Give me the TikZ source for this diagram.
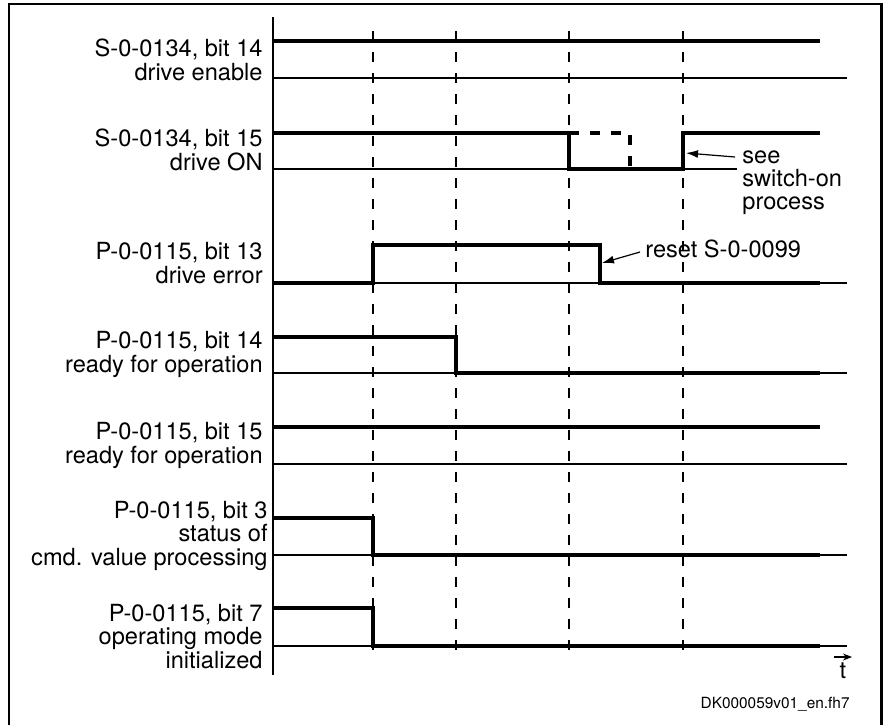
\documentclass[tikz,border=0pt]{standalone}
\usepackage{fontspec}
\setmainfont{TeX Gyre Heros}
\usetikzlibrary{arrows.meta}
\begin{document}
\begin{tikzpicture}[x=0.5pt,y=-0.5pt,
  lbl/.style={align=right,anchor=base east,inner sep=0pt,font=\fontsize{11.8}{11.75}\selectfont},
  note/.style={inner sep=0pt,font=\fontsize{11.8}{11.5}\selectfont},
  sig/.style={line width=1.7pt,line join=miter},
  sigdash/.style={sig,dash pattern=on 5pt off 5.5pt},
  baseline/.style={line width=0.6pt},
  evt/.style={line width=0.6pt,dash pattern=on 5pt off 5.5pt},
  ptr/.style={line width=0.6pt,-{Latex[length=6pt,width=4pt]}}
]
\useasboundingbox (0,0) rectangle (883,724);
% frame, open at the bottom
\begin{scope}
  \clip (0,0) rectangle (883,724);
  \draw[line width=1.1pt] (9,740) -- (9,4) -- (881.5,4) -- (881.5,740);
\end{scope}

% vertical axis
\draw[line width=0.7pt] (273,17) -- (273,675);

% zero levels of the signals
\foreach \y in {78,283,373,464,555,646}
  \draw[baseline] (273,\y) -- (847,\y);
\draw[baseline] (273,169) -- (737,169);

% event markers
\foreach \x in {373,456,569,683}
  \draw[evt] (\x,31) -- (\x,655);

% signal traces
\draw[sig] (273,41) -- (820,41);
\draw[sig] (273,133) -- (569,133) -- (569,169) -- (683,169) -- (683,133) -- (820,133);
\draw[sigdash] (569,133) -- (630,133) -- (630,169);
\draw[sig] (273,283) -- (373,283) -- (373,245) -- (600,245) -- (600,283) -- (820,283);
\draw[sig] (273,337) -- (456,337) -- (456,373) -- (820,373);
\draw[sig] (273,427) -- (820,427);
\draw[sig] (273,518) -- (373,518) -- (373,555) -- (820,555);
\draw[sig] (273,608) -- (373,608) -- (373,646) -- (820,646);

% signal names (anchored at the baseline of the last line)
\node[lbl] (l1) at (263,80) {S-0-0134, bit 14\\drive enable};
\node[lbl] (l2) at (263,170) {S-0-0134, bit 15\\drive ON};
\node[lbl] (l3) at (263,283) {P-0-0115, bit 13\\drive error};
\node[lbl] (l4) at (263,372) {P-0-0115, bit 14\\ready for operation};
\node[lbl] (l5) at (263,463) {P-0-0115, bit 15\\ready for operation};
\node[lbl] (l6) at (268,565) {P-0-0115, bit 3\\status of\\cmd. value processing};
\node[lbl] (l7) at (263,668) {P-0-0115, bit 7\\operating mode\\initialized};

% annotations
\node[note,align=left,anchor=base west] (see) at (742,209) {see\\switch-on\\process};
\coordinate (seetail) at (735,157);
\coordinate (seetip) at (686,153);
\draw[ptr] (seetail) -- (seetip);

\node[note,anchor=base west] (reset) at (645,257) {reset S-0-0099};
\coordinate (resettail) at (640,252);
\coordinate (resettip) at (602,263);
\draw[ptr] (resettail) -- (resettip);

% time axis label
\coordinate (ta) at (834,657);
\coordinate (tb) at (852,657);
\draw[line width=0.6pt,-{Stealth[length=4.5pt,width=3.5pt]}] (ta) -- (tb);
\node[note,anchor=base] (t) at (843,678) {t};

\node[inner sep=0pt,anchor=base east,font=\fontsize{7.7}{9}\selectfont] (id) at (850,708) {DK000059v01\_en.fh7};
\end{tikzpicture}
\end{document}
